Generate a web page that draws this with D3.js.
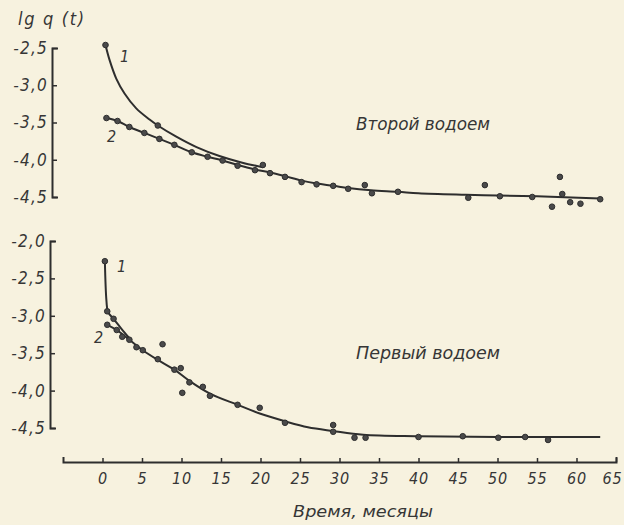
<!DOCTYPE html>
<html>
<head>
<meta charset="utf-8">
<script src="https://cdn.jsdelivr.net/npm/d3@7"></script>
<style>
  body { margin: 0; background: #f7f2df; }
  svg text { font-family: "DejaVu Sans Condensed", "DejaVu Sans", sans-serif; font-style: oblique; fill: #363636; }
</style>
</head>
<body>
<svg id="chart" width="624" height="525"></svg>
<script>
// x ticks (months)
const xTicks = [0, 5, 10, 15, 20, 25, 30, 35, 40, 45, 50, 55, 60, 65];
const topTicks = [-2.5, -3.0, -3.5, -4.0, -4.5];
const botTicks = [-2.0, -2.5, -3.0, -3.5, -4.0, -4.5];

// Второй водоем (top panel): [month, lg q]
const topCurve1 = [[0.38,-2.46],[0.89,-2.66],[1.74,-2.91],[2.79,-3.11],[4.27,-3.31],[5.96,-3.46],[7.0,-3.54],[9.34,-3.69],[11.9,-3.83],[14.8,-3.95],[17.7,-4.04],[20.3,-4.10]];
const topCurve2 = [[0.5,-3.44],[1.9,-3.48],[3.4,-3.56],[5.3,-3.64],[7.2,-3.72],[9.1,-3.80],[11.3,-3.90],[13.3,-3.96],[15.2,-4.01],[17.1,-4.07],[19.3,-4.13],[21.2,-4.17],[23.1,-4.22],[25.2,-4.28],[27.1,-4.32],[29.2,-4.35],[31.1,-4.38],[34,-4.41],[37.4,-4.43],[40,-4.45],[46,-4.47],[50,-4.48],[55,-4.49],[63,-4.52]];
const topDots = [[0.38,-2.46],[7.0,-3.54],[0.5,-3.44],[1.9,-3.48],[3.4,-3.56],[5.3,-3.64],[7.2,-3.72],[9.1,-3.80],[11.3,-3.90],[13.3,-3.96],[15.2,-4.01],[17.1,-4.08],[19.3,-4.14],[20.3,-4.07],[21.2,-4.18],[23.1,-4.23],[25.2,-4.30],[27.1,-4.33],[29.2,-4.35],[31.1,-4.39],[33.2,-4.34],[34.1,-4.45],[37.4,-4.43],[46.3,-4.51],[48.4,-4.34],[50.3,-4.49],[54.4,-4.50],[56.9,-4.63],[57.9,-4.23],[58.2,-4.46],[59.2,-4.57],[60.5,-4.59],[63.0,-4.53]];

// Первый водоем (bottom panel)
const botCurve1 = [[0.3,-2.27],[0.5,-2.80],[0.7,-2.95],[1.4,-3.04],[2.3,-3.16],[3.4,-3.30]];
const botCurve2 = [[0.6,-3.12],[1.8,-3.19],[3.4,-3.32],[5.1,-3.46],[7.0,-3.59],[9.1,-3.72],[11.0,-3.87],[13.6,-4.04],[17.1,-4.19],[20,-4.31],[23.1,-4.41],[26,-4.49],[29.2,-4.54],[33,-4.59],[40,-4.61],[50,-4.62],[63,-4.62]];
const botDots = [[0.3,-2.27],[0.6,-2.94],[1.4,-3.04],[0.6,-3.12],[1.8,-3.19],[2.5,-3.28],[3.4,-3.32],[4.3,-3.42],[5.1,-3.46],[7.0,-3.58],[7.6,-3.38],[9.1,-3.72],[9.9,-3.70],[10.1,-4.03],[11.0,-3.89],[12.7,-3.95],[13.6,-4.07],[17.1,-4.19],[19.9,-4.23],[23.1,-4.43],[29.2,-4.46],[29.2,-4.55],[31.9,-4.63],[33.3,-4.63],[40.0,-4.62],[45.6,-4.61],[50.1,-4.63],[53.5,-4.62],[56.4,-4.66]];

const svg = d3.select("#chart");
const ink = "#2e2e2e";

const x = d3.scaleLinear().domain([-5, 65]).range([63, 616]);
const yTop = d3.scaleLinear().domain([-4.5, -2.5]).range([197, 48]);
const yBot = d3.scaleLinear().domain([-4.5, -2.0]).range([428, 241]);

const fmt = d => d.toFixed(1).replace(".", ",");

function yAxis(y, ticks, xpos) {
  const g = svg.append("g")
    .attr("transform", `translate(${xpos},0)`)
    .call(d3.axisLeft(y).tickValues(ticks).tickFormat(fmt)
      .tickSizeInner(-5).tickSizeOuter(-6).tickPadding(4));
  g.select(".domain").attr("stroke", ink).attr("stroke-width", 2);
  g.selectAll(".tick line").attr("stroke", ink).attr("stroke-width", 1.5);
  g.selectAll(".tick text").attr("font-size", 17).attr("fill", "#363636")
    .attr("font-family", null).attr("letter-spacing", 1.2);
}

function panel(y, c1, c2, dots) {
  const line = d3.line().x(d => x(d[0])).y(d => y(d[1])).curve(d3.curveCatmullRom.alpha(0.5));
  [c1, c2].forEach(c => {
    svg.append("path").attr("d", line(c))
      .attr("fill", "none").attr("stroke", ink).attr("stroke-width", 2);
  });
  svg.append("g").selectAll("circle")
    .data(dots)
    .join("circle")
    .attr("cx", d => x(d[0]))
    .attr("cy", d => y(d[1]))
    .attr("r", 2.8)
    .attr("fill", "#4a4a4a")
    .attr("stroke", ink)
    .attr("stroke-width", 1);
}

yAxis(yTop, topTicks, 52);
yAxis(yBot, botTicks, 50);

panel(yTop, topCurve1, topCurve2, topDots);
panel(yBot, botCurve1, botCurve2, botDots);

// X axis
const gx = svg.append("g")
  .attr("transform", "translate(0,462)")
  .call(d3.axisBottom(x).tickValues(xTicks).tickFormat(d3.format("d"))
    .tickSizeInner(-4).tickSizeOuter(-5).tickPadding(8));
gx.select(".domain").attr("stroke", ink).attr("stroke-width", 2);
gx.selectAll(".tick line").attr("stroke", ink).attr("stroke-width", 1.5);
gx.selectAll(".tick text").attr("font-size", 16).attr("fill", "#363636")
  .attr("font-family", null).attr("dy", "0.9em").attr("letter-spacing", 0.8)
  .attr("dx", d => d === 65 ? -4 : 0);

// Texts
svg.append("text").attr("x", 18).attr("y", 25).attr("font-size", 18)
  .attr("textLength", 66).text("lg q (t)");
svg.append("text").attr("x", 356).attr("y", 130).attr("font-size", 17)
  .attr("textLength", 134).attr("lengthAdjust", "spacingAndGlyphs").text("Второй водоем");
svg.append("text").attr("x", 356).attr("y", 359).attr("font-size", 17)
  .attr("textLength", 144).attr("lengthAdjust", "spacingAndGlyphs").text("Первый водоем");
svg.append("text").attr("x", 293).attr("y", 517).attr("font-size", 16)
  .attr("textLength", 140).attr("lengthAdjust", "spacingAndGlyphs").text("Время, месяцы");

// curve numbers
svg.append("text").attr("x", 120).attr("y", 62).attr("font-size", 16).text("1");
svg.append("text").attr("x", 107).attr("y", 142).attr("font-size", 16).text("2");
svg.append("text").attr("x", 117).attr("y", 272).attr("font-size", 16).text("1");
svg.append("text").attr("x", 94).attr("y", 343).attr("font-size", 16).text("2");
</script>
</body>
</html>
